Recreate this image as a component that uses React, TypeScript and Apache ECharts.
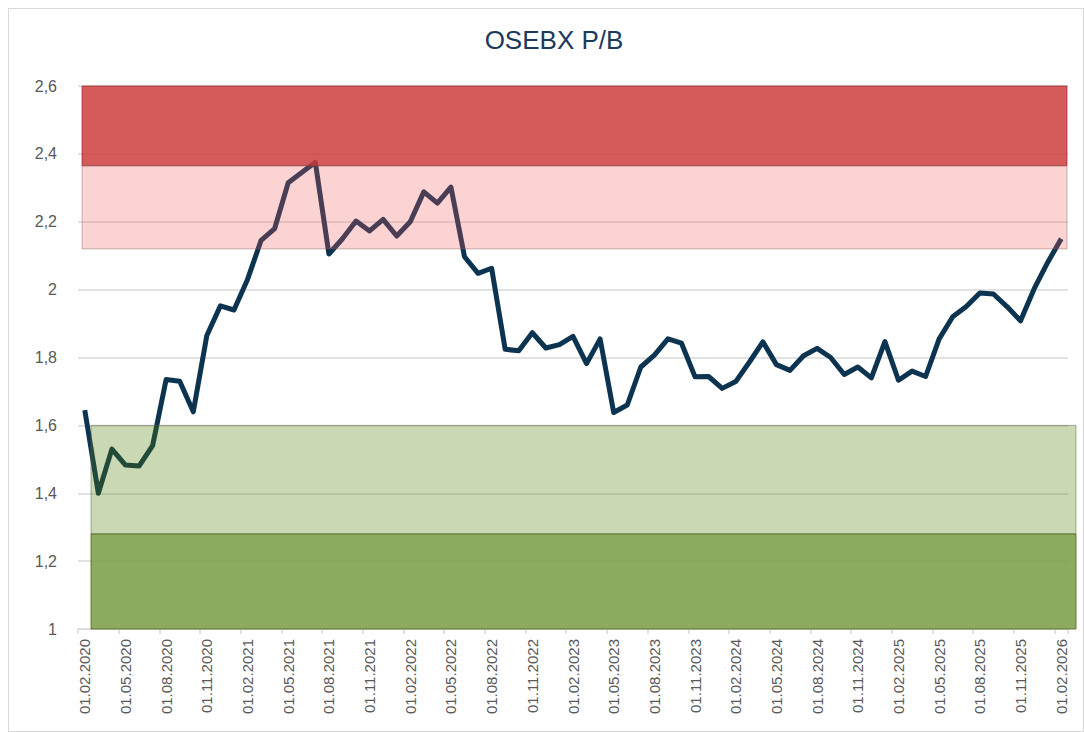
import React, { useEffect, useRef } from "react";
import * as echarts from "echarts";

const TITLE = "OSEBX P/B";

// monthly categories, Feb 2020 .. Feb 2026
const categories: string[] = [];
for (let k = 0; k < 73; k++) {
  const m = ((1 + k) % 12) + 1;
  const y = 2020 + Math.floor((1 + k) / 12);
  categories.push("01." + String(m).padStart(2, "0") + "." + y);
}

const pbValues = [
  1.645, 1.40, 1.53, 1.483, 1.48, 1.54, 1.735, 1.73, 1.64, 1.865, 1.952, 1.94,
  2.03, 2.145, 2.18, 2.315, 2.345, 2.375, 2.105, 2.15, 2.202, 2.173, 2.207, 2.158,
  2.20, 2.288, 2.255, 2.302, 2.097, 2.048, 2.063, 1.824, 1.82, 1.873, 1.828, 1.838,
  1.862, 1.782, 1.855, 1.638, 1.66, 1.772, 1.807, 1.855, 1.842, 1.743, 1.744, 1.709,
  1.729, 1.786, 1.846, 1.779, 1.762, 1.805, 1.827, 1.80, 1.75, 1.772, 1.74, 1.847,
  1.733, 1.76, 1.744, 1.855, 1.92, 1.95, 1.99, 1.987, 1.95, 1.908, 2.002, 2.08,
  2.15,
];

const redDarkBand = [2.365, 2.6];
const redLightBand = [2.12, 2.365];
const greenLightBand = [1.28, 1.6];
const greenDarkBand = [1.0, 1.28];

const yMin = 1;
const yMax = 2.6;
const yStep = 0.2;

export default function App() {
  const ref = useRef<HTMLDivElement>(null);
  useEffect(() => {
    if (!ref.current) return;
    const chart = echarts.init(ref.current, null, { renderer: "svg" });
    const font = "'Liberation Sans', Arial, sans-serif";
    const hiddenY = (gi: number) => ({
      type: "value",
      gridIndex: gi,
      min: yMin,
      max: yMax,
      show: false,
    });
    const hiddenX = (gi: number) => ({
      type: "value",
      gridIndex: gi,
      min: 0,
      max: 1,
      show: false,
    });
    const band = (b: number[], color: string, border: string) => [
      {
        yAxis: b[0],
        itemStyle: { color, borderColor: border, borderWidth: 1 },
      },
      { yAxis: b[1] },
    ];
    chart.setOption({
      animation: false,
      backgroundColor: "#ffffff",
      title: {
        text: TITLE,
        left: 545,
        top: 18,
        textAlign: "center",
        padding: 0,
        textStyle: {
          fontFamily: font,
          fontSize: 26,
          fontWeight: "normal",
          color: "#1b3a5c",
        },
      },
      grid: [
        { left: 69, right: 15, top: 77, bottom: 102 },
        { left: 73, right: 16, top: 77, bottom: 102 },
        { left: 82, right: 7, top: 77, bottom: 102 },
      ],
      xAxis: [
        {
          type: "category",
          gridIndex: 0,
          data: categories,
          boundaryGap: true,
          axisLine: { lineStyle: { color: "#d9d9d9", width: 1.5 } },
          axisTick: {
            show: true,
            interval: 2,
            length: 5,
            lineStyle: { color: "#d9d9d9", width: 1.5 },
          },
          axisLabel: {
            interval: 2,
            rotate: 90,
            margin: 10,
            fontSize: 15,
            color: "#595959",
            fontFamily: font,
          },
          splitLine: { show: false },
        },
        hiddenX(1),
        hiddenX(2),
      ],
      yAxis: [
        {
          type: "value",
          gridIndex: 0,
          min: yMin,
          max: yMax,
          interval: yStep,
          axisLine: { show: false },
          axisTick: { show: false },
          axisLabel: {
            margin: 21,
            fontSize: 16,
            color: "#595959",
            fontFamily: font,
            formatter: (v: number) =>
              String(Math.round(v * 10) / 10).replace(".", ","),
          },
          splitLine: { lineStyle: { color: "#d9d9d9", width: 1.5 } },
        },
        hiddenY(1),
        hiddenY(2),
      ],
      series: [
        {
          type: "line",
          xAxisIndex: 0,
          yAxisIndex: 0,
          data: pbValues,
          symbol: "none",
          z: 2,
          lineStyle: { color: "#0c3450", width: 5, join: "round" },
        },
        {
          type: "line",
          xAxisIndex: 1,
          yAxisIndex: 1,
          data: [],
          silent: true,
          markArea: {
            silent: true,
            z: 10,
            data: [
              band(redDarkBand, "rgba(206,62,62,0.85)", "rgba(150,40,40,0.7)"),
              band(redLightBand, "rgba(240,92,92,0.27)", "rgba(120,90,90,0.4)"),
            ],
          },
        },
        {
          type: "line",
          xAxisIndex: 2,
          yAxisIndex: 2,
          data: [],
          silent: true,
          markArea: {
            silent: true,
            z: 10,
            data: [
              band(greenLightBand, "rgba(84,125,5,0.3)", "rgba(90,100,70,0.5)"),
              band(greenDarkBand, "rgba(121,156,66,0.85)", "rgba(80,110,40,0.85)"),
            ],
          },
        },
      ],
    });
    return () => chart.dispose();
  }, []);
  return (
    <div
      style={{
        position: "absolute",
        left: 8,
        top: 8,
        width: 1076,
        height: 724,
        boxSizing: "border-box",
        border: "1px solid #d9d9d9",
        background: "#fff",
      }}
    >
      <div ref={ref} style={{ width: 1074, height: 722 }} />
    </div>
  );
}
